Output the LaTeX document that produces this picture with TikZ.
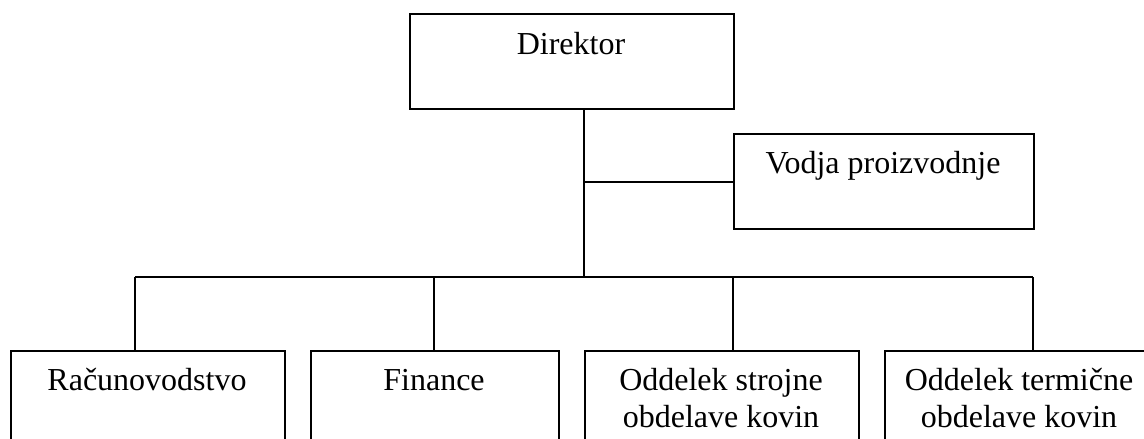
\documentclass[tikz,border=0pt]{standalone}
\usepackage{fontspec}
\setmainfont{Liberation Serif}
\begin{document}
\begin{tikzpicture}[x=1pt,y=-1pt,
  box/.style={draw, line width=1.6pt, inner sep=0pt, anchor=north west},
  lbl/.style={font=\fontsize{32}{37}\selectfont, anchor=base, inner sep=0pt, align=center},
  conn/.style={line width=1.6pt}]
\useasboundingbox (0,0) rectangle (1144,439);
\clip (0,0) rectangle (1144,439);
% boxes
\node[box, minimum width=324pt, minimum height=95pt] (dir) at (409,13) {};
\node[box, minimum width=300pt, minimum height=95pt] (vod) at (733,133) {};
\node[box, minimum width=274pt, minimum height=140pt] (b1) at (10,350) {};
\node[box, minimum width=248pt, minimum height=140pt] (b2) at (310,350) {};
\node[box, minimum width=274pt, minimum height=140pt] (b3) at (584,350) {};
\node[box, minimum width=274pt, minimum height=140pt] (b4) at (884,350) {};
% labels
\node[lbl] (tdir) at (571,54) {Direktor};
\node[lbl] (tvod) at (883,173) {Vodja proizvodnje};
\node[lbl] (t1) at (147,390) {Računovodstvo};
\node[lbl] (t2) at (434,390) {Finance};
\node[lbl] (t3) at (721,427) {Oddelek strojne\\obdelave kovin};
\node[lbl] (t4) at (1019,427) {Oddelek termične\\obdelave kovin};
% connectors
\coordinate (j) at (584,182);
\coordinate (bus) at (584,277);
\coordinate (d1) at (135,277);
\coordinate (d2) at (434,277);
\coordinate (d3) at (733,277);
\coordinate (d4) at (1033,277);
\draw[conn] (dir.south -| j) -- (bus);
\draw[conn] (j) -- (vod.west |- j);
\draw[conn] (d1) -- (d4);
\draw[conn] (d1) -- (d1 |- b1.north);
\draw[conn] (d2) -- (d2 |- b2.north);
\draw[conn] (d3) -- (d3 |- b3.north);
\draw[conn] (d4) -- (d4 |- b4.north);
\end{tikzpicture}
\end{document}
